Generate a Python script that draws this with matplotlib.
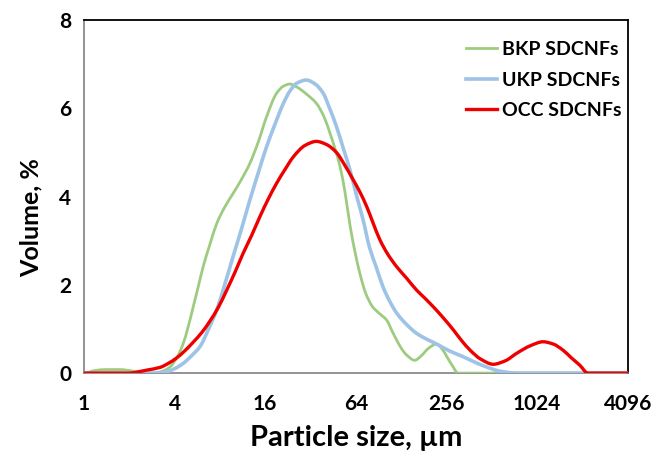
import numpy as np
import matplotlib
matplotlib.use("Agg")
import matplotlib.pyplot as plt
from matplotlib.path import Path
from matplotlib.patches import PathPatch
from matplotlib.lines import Line2D

plt.rcParams['font.family'] = ['Lato', 'DejaVu Sans']

# particle size given as log2(size in µm)
bkp_log2 = [0.0, 0.25, 0.5, 0.8, 1.05, 1.3, 1.55, 1.75, 1.9, 2.05, 2.19, 2.3, 2.41, 2.52, 2.63,
            2.78, 2.93, 3.1, 3.29, 3.47, 3.66, 3.85, 4.03, 4.25, 4.4, 4.54, 4.7, 4.9, 5.13, 5.3,
            5.43, 5.55, 5.65, 5.76, 5.87, 5.98, 6.09, 6.22, 6.37, 6.52, 6.68, 6.8, 6.9, 7.01,
            7.12, 7.3, 7.45, 7.6, 7.78, 7.9, 8.02, 8.14, 8.25, 12.0]
bkp_vol = [0.0, 0.06, 0.08, 0.08, 0.05, 0.01, 0.0, 0.05, 0.14, 0.35, 0.67, 1.05, 1.5, 1.95, 2.41,
           2.92, 3.39, 3.75, 4.07, 4.38, 4.75, 5.25, 5.81, 6.34, 6.5, 6.55, 6.48, 6.33, 6.11, 5.8,
           5.43, 5.05, 4.68, 4.1, 3.35, 2.75, 2.25, 1.8, 1.5, 1.35, 1.2, 0.95, 0.75, 0.55,
           0.41, 0.29, 0.4, 0.56, 0.66, 0.55, 0.35, 0.15, 0.0, 0.0]

ukp_log2 = [0.0, 1.1, 1.5, 1.82, 2.0, 2.19, 2.38, 2.56, 2.75, 2.93, 3.11, 3.29, 3.48, 3.66, 3.85,
            4.03, 4.2, 4.4, 4.55, 4.7, 4.91, 5.1, 5.28, 5.42, 5.57, 5.72, 5.87, 6.02, 6.16, 6.3,
            6.45, 6.6, 6.75, 6.9, 7.12, 7.34, 7.56, 7.78, 8.07, 8.37, 8.62, 8.88, 9.15, 9.4,
            9.6, 12.0]
ukp_vol = [0.0, 0.0, 0.0, 0.03, 0.1, 0.22, 0.4, 0.6, 1.0, 1.43, 2.02, 2.64, 3.28, 3.92, 4.55,
           5.13, 5.6, 6.11, 6.4, 6.57, 6.64, 6.55, 6.34, 6.0, 5.59, 5.1, 4.6, 4.0, 3.47, 2.85,
           2.4, 1.95, 1.62, 1.36, 1.1, 0.9, 0.77, 0.66, 0.5, 0.37, 0.25, 0.14, 0.05, 0.01,
           0.0, 0.0]

occ_log2 = [0.0, 1.0, 1.2, 1.4, 1.68, 1.86, 2.04, 2.22, 2.41, 2.6, 2.78, 2.97, 3.15, 3.33, 3.51,
            3.7, 3.88, 4.06, 4.25, 4.44, 4.62, 4.88, 5.13, 5.35, 5.57, 5.75, 5.94, 6.09, 6.24,
            6.38, 6.53, 6.7, 6.9, 7.12, 7.34, 7.52, 7.71, 7.93, 8.15, 8.33, 8.52, 8.75, 9.03,
            9.3, 9.55, 9.85, 10.13, 10.35, 10.57, 10.75, 10.94, 11.12, 12.0]
occ_vol = [0.0, 0.0, 0.03, 0.07, 0.13, 0.22, 0.34, 0.5, 0.7, 0.92, 1.18, 1.5, 1.88, 2.28, 2.71,
           3.12, 3.54, 3.93, 4.3, 4.62, 4.9, 5.16, 5.25, 5.18, 5.0, 4.72, 4.38, 4.1, 3.77,
           3.4, 3.02, 2.7, 2.41, 2.15, 1.88, 1.7, 1.5, 1.25, 0.98, 0.74, 0.52, 0.32, 0.2,
           0.28, 0.45, 0.62, 0.71, 0.66, 0.52, 0.35, 0.18, 0.0, 0.0]

x_ticks = [1, 4, 16, 64, 256, 1024, 4096]
y_ticks = [0, 2, 4, 6, 8]
labels = ['BKP SDCNFs', 'UKP SDCNFs', 'OCC SDCNFs']
colors = ['#9dcb80', '#9dc3e6', '#ee0000']
widths = [2.0, 2.6, 2.4]


def smooth_path(lx, y):
    """Smoothed-line rendering (like a spreadsheet's smoothed line):
    cubic Bezier segments through the read points, monotone tangents."""
    lx = np.asarray(lx, float)
    y = np.asarray(y, float)
    h = np.diff(lx)
    d = np.diff(y) / h
    m = np.zeros_like(y)
    for k in range(1, len(y) - 1):
        if d[k - 1] * d[k] > 0:
            w1 = 2 * h[k] + h[k - 1]
            w2 = h[k] + 2 * h[k - 1]
            m[k] = (w1 + w2) / (w1 / d[k - 1] + w2 / d[k])
    verts = [(lx[0], y[0])]
    codes = [Path.MOVETO]
    for k in range(len(h)):
        c1 = (lx[k] + h[k] / 3, y[k] + m[k] * h[k] / 3)
        c2 = (lx[k + 1] - h[k] / 3, y[k + 1] - m[k + 1] * h[k] / 3)
        verts += [c1, c2, (lx[k + 1], y[k + 1])]
        codes += [Path.CURVE4] * 3
    verts = np.array(verts)
    verts[:, 0] = np.power(2.0, verts[:, 0])
    return Path(verts, codes)


fig = plt.figure(figsize=(6.56, 4.55), dpi=100)
ax = fig.add_axes([0.128, 0.180, 0.829, 0.776])

ax.set_xscale('log', base=2)
ax.set_xlim(1, 4096)
ax.set_ylim(0, 8)

series = [(bkp_log2, bkp_vol), (ukp_log2, ukp_vol), (occ_log2, occ_vol)]
handles = []
for (lx, v), c, w, lab in zip(series, colors, widths, labels):
    patch = PathPatch(smooth_path(lx, v), facecolor='none', edgecolor=c, lw=w,
                      transform=ax.transData, zorder=3, capstyle='round', joinstyle='round')
    ax.add_patch(patch)
    handles.append(Line2D([], [], color=c, lw=w, label=lab))

ax.set_xticks(x_ticks)
ax.set_xticklabels([str(t) for t in x_ticks])
ax.set_yticks(y_ticks)
ax.minorticks_off()
ax.tick_params(axis='both', length=0, labelsize=15)
ax.tick_params(axis='x', pad=15)
ax.tick_params(axis='y', pad=9)
for t in ax.get_xticklabels() + ax.get_yticklabels():
    t.set_fontweight('bold')

for side in ['top', 'right']:
    ax.spines[side].set_color('black')
    ax.spines[side].set_linewidth(1.3)
for side in ['left', 'bottom']:
    ax.spines[side].set_color('#808080')
    ax.spines[side].set_linewidth(1.2)

ax.set_xlabel('Particle size, µm', fontsize=21, fontweight='bold', labelpad=8)
ax.set_ylabel('Volume, %', fontsize=18, fontweight='bold')
ax.yaxis.set_label_coords(-0.076, 0.44)

ax.legend(handles=handles, loc='upper right', bbox_to_anchor=(1.02, 0.99), frameon=False,
          handlelength=1.6, handletextpad=0.25, labelspacing=0.7,
          prop={'size': 14, 'weight': 'bold'})

fig.savefig('out.png', dpi=100)
